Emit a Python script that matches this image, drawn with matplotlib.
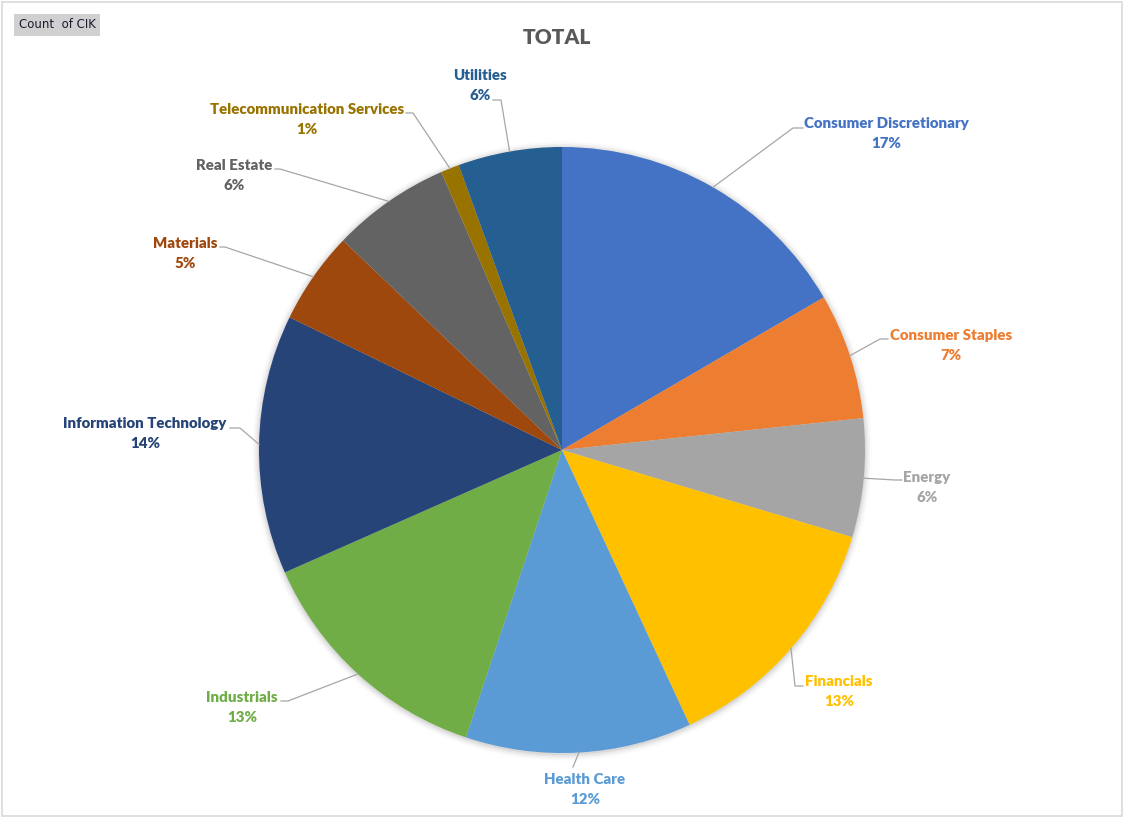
import math

import matplotlib
matplotlib.use("Agg")
import matplotlib.pyplot as plt
from matplotlib.patches import Circle, Rectangle

# data: count of CIK by sector
sectors = [
    "Consumer Discretionary", "Consumer Staples", "Energy", "Financials",
    "Health Care", "Industrials", "Information Technology", "Materials",
    "Real Estate", "Telecommunication Services", "Utilities",
]
counts = [84, 34, 32, 68, 61, 67, 70, 25, 32, 5, 28]
colors = [
    "#4472C4", "#ED7D31", "#A5A5A5", "#FFC000", "#5B9BD5", "#70AD47",
    "#264478", "#9E480E", "#636363", "#997300", "#255E91",
]

# label layout (pixel positions): name center, leader elbow, leader end
label_pos = [(886, 123), (951, 335), (927, 477), (839, 682), (585, 779),
             (242, 698), (145, 424), (185, 243), (234, 166), (307, 109),
             (480, 75)]
elbows = [(793, 128), (880, 339), (895, 480), (795, 686), (573, 767),
          (288, 701), (240, 428), (225, 247), (280, 169), (413, 113),
          (501, 100)]
ends = [(803, 128), (888, 339), (902, 480), (803, 686), (573, 767),
        (281, 701), (230, 428), (220, 247), (275, 169), (406, 113),
        (493, 100)]

W, H = 1124, 818
cx, cy, R = 562, 450, 303

plt.rcParams["font.family"] = ["Lato", "DejaVu Sans"]
fig = plt.figure(figsize=(W / 100, H / 100), dpi=100)
ax = fig.add_axes([0, 0, 1, 1])

# chart border
ax.add_patch(Rectangle((1.5, 1.5), W - 4, H - 4, fill=False,
                       edgecolor="#D9D9D9", linewidth=1.2))

# soft shadow around the pie
for i, a in enumerate([0.05, 0.04, 0.03, 0.02, 0.01]):
    ax.add_patch(Circle((cx, cy + 1), R + 1 + i * 1.5, color="black",
                        alpha=a, linewidth=0, zorder=1))

# y axis inverted -> counterclockwise in data is clockwise on screen
wedges, _ = ax.pie(counts, colors=colors, center=(cx, cy), radius=R,
                   startangle=-90, counterclock=True,
                   wedgeprops=dict(linewidth=0), frame=True)
for w in wedges:
    w.set_zorder(2)
ax.set_xlim(0, W)
ax.set_ylim(H, 0)
ax.axis("off")

total = sum(counts)
for w, name, n, col, (lx, ly), el, en in zip(wedges, sectors, counts, colors,
                                              label_pos, elbows, ends):
    mid = math.radians((w.theta1 + w.theta2) / 2)
    sx, sy = cx + R * math.cos(mid), cy + R * math.sin(mid)
    ax.plot([sx, el[0], en[0]], [sy, el[1], en[1]], color="#A6A6A6",
            linewidth=0.9, zorder=3)
    ax.text(lx, ly, name, color=col, fontsize=10.8, fontweight="heavy",
            ha="center", va="center", zorder=4)
    ax.text(lx, ly + 20, f"{round(100 * n / total)}%", color=col,
            fontsize=10.8, fontweight="heavy", ha="center", va="center",
            zorder=4)

ax.text(557, 38, "TOTAL", color="#595959", fontsize=15, fontweight="heavy",
        ha="center", va="center")

# field button
ax.add_patch(Rectangle((14, 14), 86, 22, facecolor="#D0D0D0",
                       edgecolor="none"))
ax.text(57, 25, "Count  of CIK", color="#1a1a2e", fontsize=8.5,
        family=["DejaVu Sans"], ha="center", va="center")

fig.savefig("out.png", dpi=100)
